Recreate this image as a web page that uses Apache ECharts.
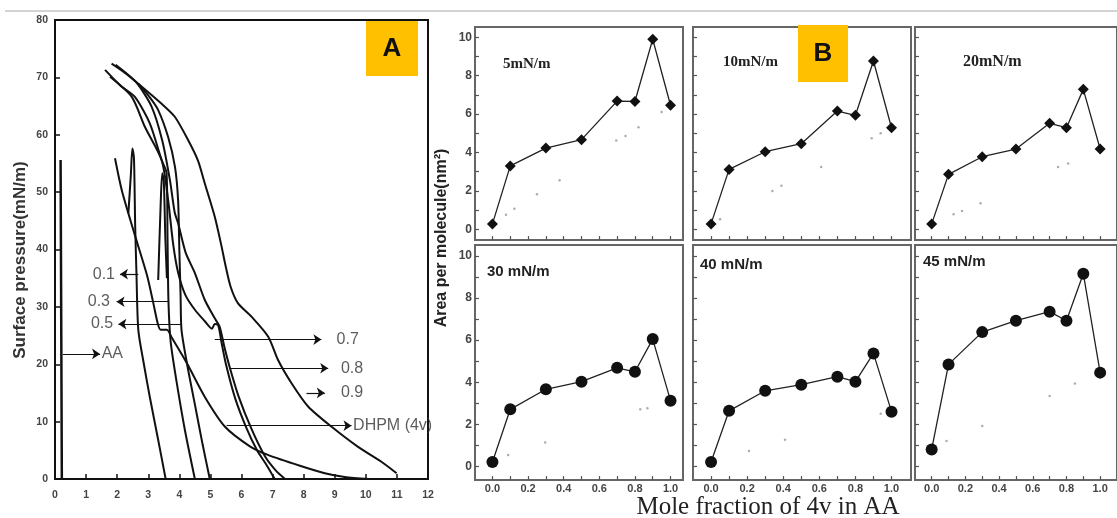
<!DOCTYPE html>
<html>
<head>
<meta charset="utf-8">
<script src="https://cdn.jsdelivr.net/npm/echarts@6/dist/echarts.min.js"></script>
<style>html,body{margin:0;padding:0;background:#fff}#c{width:1117px;height:518px}</style>
</head>
<body>
<div id="c"></div>
<script>
// ---------- Panel A: surface pressure isotherms (area, pressure) ----------
const curveAA   = [[0.22,0],[0.2,28],[0.18,55.6]];
const curve01   = [[2.36,46.3],[2.44,53],[2.49,57.6],[2.54,56],[2.58,44],[2.62,36],[2.68,26],[2.86,20],[3.05,14.3],[3.32,6.8],[3.56,0]];
const curve03   = [[1.61,71.3],[2.1,68.6],[2.57,66.6],[3.05,62],[3.43,55.6],[3.59,53.3],[3.62,42],[3.65,31],[3.72,24],[3.91,17],[4.18,8.5],[4.5,0]];
const curve03s  = [[3.32,34.7],[3.4,48],[3.45,53.3],[3.5,52],[3.55,42],[3.6,35]];
const curve05   = [[2.68,68.9],[3.05,66.5],[3.32,64.3],[3.64,59.6],[3.86,54.4],[3.96,48.6],[4.0,40],[4.04,32],[4.07,26],[4.25,20],[4.5,13],[4.75,6],[4.98,0]];
const curve07   = [[1.77,70.1],[2.47,66.6],[2.89,61.4],[3.43,55.6],[3.64,48.6],[3.8,41],[3.96,36],[4.2,32],[4.5,29.5],[4.82,27.5],[5.05,26.2],[5.14,27],[5.25,26.8],[5.35,24],[5.5,20],[5.8,14],[6.15,9],[6.5,5],[6.8,2.5],[7.07,0]];
const curve08   = [[1.95,72.2],[2.6,69.2],[3.1,65],[3.45,59],[3.7,52],[3.85,46.5],[3.96,44.6],[4.2,39.5],[4.5,35.9],[4.82,31.2],[5.14,28],[5.3,26.5],[5.45,23],[5.63,19.3],[5.9,14.5],[6.3,9],[6.75,4],[7.1,1.5],[7.4,0]];
const curve09   = [[1.82,72.4],[2.2,71],[2.68,68.9],[3.43,65.4],[3.86,63.1],[4.29,59],[4.6,55.5],[4.82,51.5],[5.14,45.7],[5.36,40.5],[5.47,37.6],[5.65,33.5],[5.89,30.6],[6.32,28.3],[6.86,24.8],[7.18,20.7],[7.61,16.7],[8.15,12.6],[8.9,9.1],[9.75,5.6],[10.5,3.0],[10.99,1.0]];
const curveDHPM = [[1.93,55.9],[2.15,50.3],[2.57,42.5],[2.96,35.5],[3.15,31],[3.31,27],[3.4,26],[3.6,26],[3.76,24.6],[4.24,20.2],[4.82,14.3],[5.47,9.1],[6.27,5.7],[6.85,4.2],[7.88,2.3],[8.68,1.0],[9.32,0.35],[10.1,0]];

// arrows + labels in panel A
const arrowText   = ['AA','0.1','0.3','0.5','0.7','0.8','0.9','DHPM (4v)'];
const arrowStartX = [0.25, 2.68, 3.64, 4.07, 5.14, 5.63, 8.09, 5.52];
const arrowEndX   = [1.45, 2.09, 1.98, 2.04, 8.57, 8.79, 8.68, 9.54];
const arrowY      = [21.8, 35.7, 30.9, 27.0, 24.3, 19.3, 15.0, 9.3];
const labelX      = [1.5, 1.93, 1.77, 1.87, 9.06, 9.2, 9.2, 9.59];

// ---------- Panel B: area per molecule vs mole fraction ----------
const moleFraction = [0, 0.1, 0.3, 0.5, 0.7, 0.8, 0.9, 1.0];
const area5  = [0.28, 3.3, 4.23, 4.67, 6.68, 6.66, 9.9, 6.46];
const area10 = [0.28, 3.12, 4.04, 4.46, 6.16, 5.94, 8.77, 5.29];
const area20 = [0.28, 2.86, 3.78, 4.18, 5.52, 5.29, 7.29, 4.18];
const area30 = [0.22, 2.72, 3.67, 4.03, 4.69, 4.5, 6.05, 3.13];
const area40 = [0.22, 2.65, 3.6, 3.89, 4.27, 4.03, 5.37, 2.61];
const area45 = [0.82, 4.85, 6.38, 6.92, 7.35, 6.92, 9.15, 4.46];
const dots5  = [[0.076,0.75],[0.123,1.07],[0.25,1.82],[0.377,2.55],[0.695,4.62],[0.747,4.86],[0.82,5.31],[0.95,6.11]];
const dots10 = [[0.05,0.52],[0.34,2.0],[0.39,2.27],[0.61,3.24],[0.89,4.74],[0.94,5.0]];
const dots20 = [[0.13,0.78],[0.18,0.95],[0.29,1.35],[0.75,3.24],[0.81,3.43]];
const dots30 = [[0.088,0.55],[0.296,1.15],[0.83,2.72],[0.87,2.77]];
const dots40 = [[0.21,0.74],[0.41,1.28],[0.94,2.51]];
const dots45 = [[0.088,1.22],[0.3,1.93],[0.7,3.35],[0.85,3.95]];
const panelLabels = ['5mN/m','10mN/m','20mN/m','30 mN/m','40 mN/m','45 mN/m'];
const xTickVals  = [0,0.1,0.2,0.3,0.4,0.5,0.6,0.7,0.8,0.9,1.0];
const xLabelVals = [0,0.2,0.4,0.6,0.8,1.0];
const yTickVals  = [0,1,2,3,4,5,6,7,8,9,10];
const yLabelVals = [0,2,4,6,8,10];

// ---------- layout ----------
const colLeft  = [475, 693, 915];
const colWidth = [208, 218, 210];
const colXMin  = [-0.098, -0.1, -0.099];
const colXMax  = [1.07, 1.108, 1.1];
const rowTop    = [27, 245];
const rowHeight = [213, 235];
const rowYMin   = [-0.56, -0.63];
const rowYMax   = [10.54, 10.51];
const labelPos = [[503,57],[723,55],[963,54],[487,264],[700,257],[923,254]];
const labelFont = ['bold 15px "Liberation Serif"','bold 15px "Liberation Serif"','bold 16px "Liberation Serif"',
                   'bold 15px "Liberation Sans"','bold 15px "Liberation Sans"','bold 15px "Liberation Sans"'];

const areas = [area5, area10, area20, area30, area40, area45];
const dots  = [dots5, dots10, dots20, dots30, dots40, dots45];

const grids = [{left:55, top:20, width:373, height:459, show:true, borderColor:'#111', borderWidth:2, containLabel:false}];
const xAxes = [{
  gridIndex:0, type:'value', min:0, max:12, interval:1,
  axisLine:{show:true, onZero:false, lineStyle:{color:'#111', width:2}},
  axisTick:{show:true, inside:true, length:5, lineStyle:{color:'#111', width:1.5}},
  axisLabel:{margin:11, fontSize:10.5, fontWeight:'bold', color:'#444', fontFamily:'Liberation Sans'},
  splitLine:{show:false}
}];
const yAxes = [{
  gridIndex:0, type:'value', min:0, max:80, interval:10,
  axisLine:{show:true, onZero:false, lineStyle:{color:'#111', width:2}},
  axisTick:{show:true, inside:true, length:5, lineStyle:{color:'#111', width:1.5}},
  axisLabel:{margin:7, fontSize:10.5, fontWeight:'bold', color:'#444', fontFamily:'Liberation Sans'},
  splitLine:{show:false}
}];

const series = [];
const aCurves = [curveAA, curve01, curve03, curve03s, curve05, curve07, curve08, curve09, curveDHPM];
aCurves.forEach((c, i) => {
  series.push({type:'line', xAxisIndex:0, yAxisIndex:0, data:c, showSymbol:false, smooth:0.25,
    lineStyle:{color:'#111', width: i === 0 ? 2.5 : 2}, silent:true, z:3});
});
// arrow annotations
const leftLabels = [], rightLabels = [], arrows = [];
arrowText.forEach((t, i) => {
  arrows.push([{coord:[arrowStartX[i], arrowY[i]]}, {coord:[arrowEndX[i], arrowY[i]]}]);
  const item = {name:t, value:[labelX[i], arrowY[i]]};
  if (arrowEndX[i] < arrowStartX[i]) leftLabels.push(item); else rightLabels.push(item);
});
const labelStyle = {show:true, formatter:'{b}', fontSize:16, color:'#333', fontFamily:'Liberation Sans', distance:0};
series.push({type:'scatter', xAxisIndex:0, yAxisIndex:0, symbolSize:0, data:rightLabels, silent:true,
  label:Object.assign({position:'right'}, labelStyle),
  markLine:{silent:true, symbol:['none','arrow'], symbolSize:8, label:{show:false},
    lineStyle:{color:'#111', width:1.2, type:'solid'}, data:arrows}, z:4});
series.push({type:'scatter', xAxisIndex:0, yAxisIndex:0, symbolSize:0, data:leftLabels, silent:true,
  label:Object.assign({position:'left'}, labelStyle), z:4});

for (let i = 0; i < 6; i++) {
  const col = i % 3, row = Math.floor(i / 3), g = i + 1;
  grids.push({left:colLeft[col], top:rowTop[row], width:colWidth[col], height:rowHeight[row],
    show:true, borderColor:'#666', borderWidth:2, containLabel:false});
  xAxes.push({gridIndex:g, type:'value', min:colXMin[col], max:colXMax[col],
    axisLine:{show:false, onZero:false},
    axisTick:{show:true, inside:true, length:4, customValues:xTickVals, lineStyle:{color:'#555', width:1.2}},
    axisLabel:{show:row === 1, customValues:xLabelVals, formatter:v => v.toFixed(1), margin:3,
      fontSize:11, fontWeight:'bold', color:'#444', fontFamily:'Liberation Sans'},
    splitLine:{show:false}});
  yAxes.push({gridIndex:g, type:'value', min:rowYMin[row], max:rowYMax[row],
    axisLine:{show:false, onZero:false},
    axisTick:{show:true, inside:true, length:4, customValues:yTickVals, lineStyle:{color:'#555', width:1.2}},
    axisLabel:{show:col === 0, customValues:yLabelVals, margin:3,
      fontSize:12, fontWeight:'bold', color:'#444', fontFamily:'Liberation Sans'},
    splitLine:{show:false}});
  series.push({type:'line', xAxisIndex:g, yAxisIndex:g,
    data:moleFraction.map((x, k) => [x, areas[i][k]]),
    symbol: row === 0 ? 'diamond' : 'circle', symbolSize: row === 0 ? 11 : 12,
    itemStyle:{color:'#111'}, lineStyle:{color:'#222', width:1.3}, silent:true, z:3});
  series.push({type:'scatter', xAxisIndex:g, yAxisIndex:g, data:dots[i], symbolSize:2.5,
    itemStyle:{color:'#999'}, silent:true, z:2});
}

const graphic = [
  {type:'line', shape:{x1:5, y1:11, x2:1117, y2:11}, style:{stroke:'#d3d3d3', lineWidth:2}},
  {type:'rect', shape:{x:366, y:21, width:52, height:55}, style:{fill:'#FFC000'}, z:10},
  {type:'text', x:392, y:49, z:11, style:{text:'A', font:'bold 26px "Liberation Sans"', fill:'#111', textAlign:'center', textVerticalAlign:'middle'}},
  {type:'rect', shape:{x:798, y:25, width:50, height:57}, style:{fill:'#FFC000'}, z:10},
  {type:'text', x:823, y:54, z:11, style:{text:'B', font:'bold 26px "Liberation Sans"', fill:'#111', textAlign:'center', textVerticalAlign:'middle'}},
  {type:'text', x:20, y:260, rotation:Math.PI/2, style:{text:'Surface pressure(mN/m)', font:'bold 17px "Liberation Sans"', fill:'#333', textAlign:'center', textVerticalAlign:'middle'}},
  {type:'text', x:442, y:238, rotation:Math.PI/2, style:{text:'Area per molecule(nm²)', font:'bold 16px "Liberation Sans"', fill:'#222', textAlign:'center', textVerticalAlign:'middle'}},
  {type:'text', x:768, y:507, style:{text:'Mole fraction of 4v in AA', font:'25px "Liberation Serif"', fill:'#222', textAlign:'center', textVerticalAlign:'middle'}}
];
panelLabels.forEach((t, i) => {
  graphic.push({type:'text', x:labelPos[i][0], y:labelPos[i][1], z:5,
    style:{text:t, font:labelFont[i], fill:'#222', textAlign:'left', textVerticalAlign:'top'}});
});

const chart = echarts.init(document.getElementById('c'), null, {renderer:'canvas'});
chart.setOption({animation:false, backgroundColor:'#fff', grid:grids, xAxis:xAxes, yAxis:yAxes, series, graphic});
</script>
</body>
</html>
